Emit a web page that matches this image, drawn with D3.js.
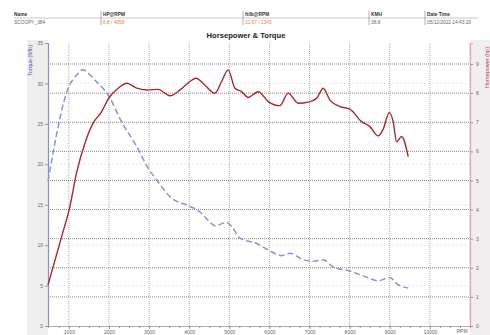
<!DOCTYPE html>
<html>
<head>
<meta charset="utf-8">
<script src="https://cdn.jsdelivr.net/npm/d3@7"></script>
<style>
  body { margin: 0; background: #fff; }
  svg { font-family: "Liberation Sans", Arial, sans-serif; }
</style>
</head>
<body>
<svg id="dyno" width="490" height="335"></svg>
<script>
// header table
var headLabels = ['Name', 'HP@RPM', 'ft/lb@RPM', 'KMH', 'Date Time'];
var headValues = ['SCOOPY_384', '8.8 / 4958', '31.67 / 1345', '38.8', '05/12/2022 14:43:29'];

// torque run (left axis, ft/lb)
var torqueRpm = [480, 1000, 1190, 1340, 1650, 2000, 2310, 2690, 2980, 3230, 3520, 4020, 4270, 4470, 4640, 4930, 5060, 5260, 5680, 6010, 6300, 6510, 6840, 7090, 7340, 7590, 8000, 8340, 8710, 9000, 9210, 9460];
var torque = [17.9, 29.6, 31.0, 31.7, 30.4, 28.4, 25.3, 22.2, 19.5, 17.8, 16.0, 14.8, 14.1, 13.1, 12.4, 12.8, 12.3, 10.9, 10.2, 9.3, 8.7, 9.0, 8.2, 8.0, 8.2, 7.3, 6.8, 6.2, 5.6, 6.0, 5.1, 4.7];

// horsepower run (right axis)
var hpRpm = [480, 820, 1025, 1190, 1400, 1605, 1815, 2005, 2230, 2450, 2690, 2940, 3225, 3520, 3770, 4017, 4170, 4400, 4640, 4807, 4972, 5139, 5306, 5470, 5720, 5969, 6261, 6467, 6717, 6966, 7176, 7340, 7507, 7756, 8006, 8297, 8504, 8711, 8836, 8986, 9085, 9170, 9295, 9460];
var hp = [1.41, 3.07, 4.10, 5.25, 6.28, 6.97, 7.36, 7.85, 8.17, 8.34, 8.17, 8.11, 8.13, 7.91, 8.11, 8.40, 8.51, 8.26, 8.00, 8.40, 8.80, 8.17, 8.05, 7.85, 8.05, 7.71, 7.57, 8.00, 7.65, 7.69, 7.82, 8.17, 7.76, 7.54, 7.45, 7.02, 6.85, 6.53, 6.76, 7.33, 7.02, 6.33, 6.51, 5.82];

// ticks
var rpmTicks = [1000, 2000, 3000, 4000, 5000, 6000, 7000, 8000, 9000, 10000];
var torqueTicks = [0, 5, 10, 15, 20, 25, 30, 35];
var hpTicks = [0, 1, 2, 3, 4, 5, 6, 7, 8, 9];

var svg = d3.select('#dyno');
var plotL = 48, plotR = 470, plotT = 43, plotB = 326;

var x = d3.scaleLinear().domain([480, 11000]).range([plotL, plotR]);
var yT = d3.scaleLinear().domain([0, 35]).range([plotB, plotT]);
var yH = d3.scaleLinear().domain([0, 35 / 3.6]).range([plotB, plotT]);

// header strip
var colX = [14, 101, 243, 369, 425];
svg.append('line')
    .attr('x1', 14).attr('x2', 478)
    .attr('y1', 18).attr('y2', 18)
    .attr('stroke', '#bbb').attr('stroke-width', 0.8);
colX.forEach(function(cx, i) {
    if (i > 0) {
        svg.append('line')
            .attr('x1', cx).attr('x2', cx)
            .attr('y1', 11).attr('y2', 25)
            .attr('stroke', '#999').attr('stroke-width', 0.8);
    }
    svg.append('text')
        .attr('x', cx + (i > 0 ? 2 : 0)).attr('y', 16)
        .attr('font-size', 4.8).attr('font-weight', 'bold').attr('fill', '#333')
        .text(headLabels[i]);
    svg.append('text')
        .attr('x', cx + (i > 0 ? 2 : 0)).attr('y', 23.5)
        .attr('font-size', 4.8)
        .attr('fill', i == 1 || i == 2 ? '#e0833f' : '#666')
        .text(headValues[i]);
});

// title
svg.append('text')
    .attr('x', 246).attr('y', 38)
    .attr('text-anchor', 'middle')
    .attr('font-size', 7.6).attr('font-weight', 'bold').attr('fill', '#222')
    .text('Horsepower & Torque');

// side bands
svg.append('rect').attr('x', 27).attr('y', 40).attr('width', plotL - 27).attr('height', 295).attr('fill', '#eeeeee');
svg.append('rect').attr('x', plotR).attr('y', 40).attr('width', 490 - plotR).attr('height', 295).attr('fill', '#f1eeef');

// grid
var g = svg.append('g');
g.selectAll('.tgrid')
    .data(torqueTicks.slice(1, -1))
    .enter()
    .append('line')
    .attr('class', 'tgrid')
    .attr('x1', plotL).attr('x2', plotR)
    .attr('y1', d => yT(d)).attr('y2', d => yT(d))
    .attr('stroke', '#e4e4e4').attr('stroke-width', 0.8).attr('stroke-dasharray', '2,2');
g.selectAll('.vgrid')
    .data(rpmTicks.concat([11000]))
    .enter()
    .append('line')
    .attr('class', 'vgrid')
    .attr('x1', d => x(d)).attr('x2', d => x(d))
    .attr('y1', plotT).attr('y2', plotB)
    .attr('stroke', '#999').attr('stroke-width', 0.8).attr('stroke-dasharray', '1,1');
g.selectAll('.hgrid')
    .data(hpTicks.slice(1))
    .enter()
    .append('line')
    .attr('class', 'hgrid')
    .attr('x1', plotL).attr('x2', plotR)
    .attr('y1', d => yH(d)).attr('y2', d => yH(d))
    .attr('stroke', '#777').attr('stroke-width', 0.9).attr('stroke-dasharray', '1,1');

// axes
function styleAxis(sel, lineColor) {
    sel.selectAll('text').attr('font-size', 5).attr('fill', '#666');
    sel.selectAll('line').attr('stroke', '#999');
    sel.select('.domain').attr('stroke', lineColor).attr('stroke-width', 1.2);
}

var xAxis = svg.append('g')
    .attr('transform', `translate(0,${plotB})`)
    .call(d3.axisBottom(x).tickValues(d3.range(750, 11001, 250)).tickSize(2).tickFormat(''));
xAxis.select('.domain').attr('stroke', '#999').attr('stroke-width', 0.8);
xAxis.selectAll('line').attr('stroke', '#999');

svg.append('g')
    .attr('transform', `translate(0,${plotB})`)
    .call(d3.axisBottom(x).tickValues(rpmTicks).tickSize(3).tickPadding(1).tickFormat(d3.format('d')))
    .call(s => styleAxis(s, 'none'));

svg.append('text')
    .attr('x', 462).attr('y', 333)
    .attr('text-anchor', 'middle')
    .attr('font-size', 5).attr('fill', '#666')
    .text('RPM');

svg.append('g')
    .attr('transform', `translate(${plotL},0)`)
    .call(d3.axisLeft(yT).tickValues(torqueTicks).tickSize(3).tickPadding(2))
    .call(s => styleAxis(s, '#8c8cd0'));

svg.append('g')
    .attr('transform', `translate(${plotR},0)`)
    .call(d3.axisRight(yH).tickValues(hpTicks).tickSize(3).tickPadding(3))
    .call(s => styleAxis(s, '#e4a6b4'));

// axis titles
svg.append('text')
    .attr('transform', 'translate(32,45) rotate(-90)')
    .attr('text-anchor', 'end')
    .attr('font-size', 5.5).attr('fill', '#4a5cb8')
    .text('Torque (ft/lb)');
svg.append('text')
    .attr('transform', 'translate(489,47) rotate(-90)')
    .attr('text-anchor', 'end')
    .attr('font-size', 5.5).attr('fill', '#c0404a')
    .text('Horsepower (hp)');

// curves
var torqueLine = d3.line()
    .x((d, i) => x(torqueRpm[i]))
    .y(d => yT(d))
    .curve(d3.curveMonotoneX);
svg.append('path')
    .datum(torque)
    .attr('d', torqueLine)
    .attr('fill', 'none')
    .attr('stroke', '#8d93cf')
    .attr('stroke-width', 1.5)
    .attr('stroke-dasharray', '6,3');

var hpLine = d3.line()
    .x((d, i) => x(hpRpm[i]))
    .y(d => yH(d))
    .curve(d3.curveMonotoneX);
svg.append('path')
    .datum(hp)
    .attr('d', hpLine)
    .attr('fill', 'none')
    .attr('stroke', '#a8272e')
    .attr('stroke-width', 1.4);
</script>
</body>
</html>
